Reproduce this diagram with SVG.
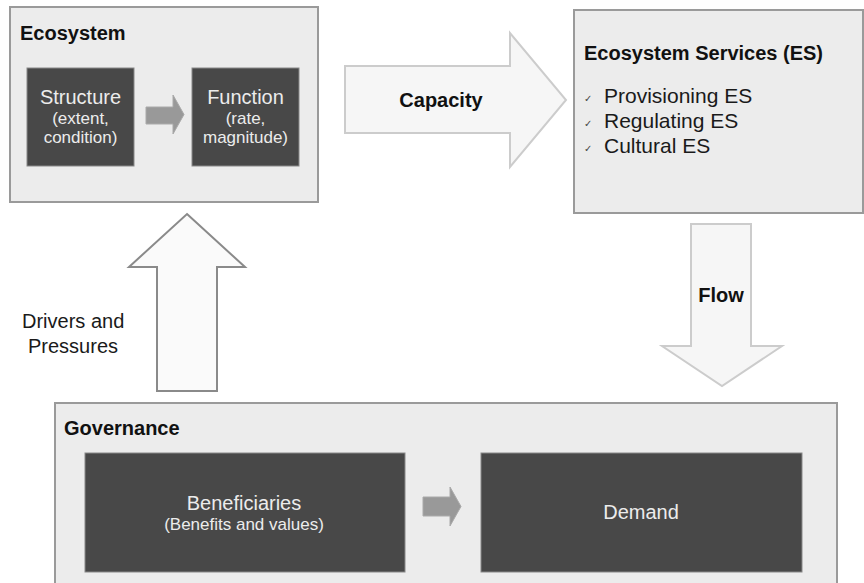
<svg xmlns="http://www.w3.org/2000/svg" width="864" height="583" viewBox="0 0 864 583">
<style>
.panel{fill:#ececec;stroke:#9a9a9a;stroke-width:2}
.dark{fill:#484848;stroke:#888;stroke-width:1}
.title{font-family:"Liberation Sans",Arial,sans-serif;font-weight:bold;font-size:20px;fill:#111}
.big{font-family:"Liberation Sans",Arial,sans-serif;font-size:20px;fill:#ececec;text-anchor:middle}
.small{font-family:"Liberation Sans",Arial,sans-serif;font-size:17px;fill:#ececec;text-anchor:middle}
.item{font-family:"Liberation Sans",Arial,sans-serif;font-size:21px;fill:#1a1a1a}
.chk{font-family:"DejaVu Sans",sans-serif;font-size:10px;fill:#444}
.lbl{font-family:"Liberation Sans",Arial,sans-serif;font-size:20px;fill:#1a1a1a}
.bigarrow{fill:#f6f6f6;stroke:#cccccc;stroke-width:2;stroke-linejoin:miter}
.darkarrow{fill:#fafafa;stroke:#8a8a8a;stroke-width:2}
.smallarrow{fill:#999999;stroke:#aaaaaa;stroke-width:1}
</style>
<rect width="864" height="583" fill="#ffffff"/>
<g id="ecosystem">
<rect class="panel" x="10" y="7" width="308" height="195"/>
<text class="title" x="20" y="40">Ecosystem</text>
</g>
<g id="structure">
<rect class="dark" x="27" y="68" width="107" height="98"/>
<text class="big" x="80.5" y="104">Structure</text>
<text class="small" x="80.5" y="124">(extent,</text>
<text class="small" x="80.5" y="143">condition)</text>
</g>
<g id="function">
<rect class="dark" x="192" y="68" width="107" height="98"/>
<text class="big" x="245.5" y="104">Function</text>
<text class="small" x="245.5" y="124">(rate,</text>
<text class="small" x="245.5" y="143">magnitude)</text>
</g>
<g id="es">
<rect class="panel" x="574" y="10" width="289" height="203"/>
<text class="title" x="584" y="60">Ecosystem Services (ES)</text>
<text class="chk" x="584" y="102">✓</text>
<text class="item" x="604" y="103">Provisioning ES</text>
<text class="chk" x="584" y="127">✓</text>
<text class="item" x="604" y="128">Regulating ES</text>
<text class="chk" x="584" y="152">✓</text>
<text class="item" x="604" y="153">Cultural ES</text>
</g>
<g id="governance">
<rect class="panel" x="55" y="403" width="782" height="190"/>
<text class="title" x="64" y="435">Governance</text>
</g>
<g id="beneficiaries">
<rect class="dark" x="85" y="453" width="320" height="119"/>
<text class="big" x="244" y="510">Beneficiaries</text>
<text class="small" x="244" y="530">(Benefits and values)</text>
</g>
<g id="demand">
<rect class="dark" x="481" y="453" width="321" height="119"/>
<text class="big" x="641" y="519">Demand</text>
</g>
<g id="connectors">
<polygon class="smallarrow" points="146,107 173,107 173,95 184,114.5 173,134 173,124 146,124"/>
<polygon class="smallarrow" points="423,497 450,497 450,487 461,506.5 450,526 450,516 423,516"/>
<polygon class="bigarrow" points="345,66 510,66 510,33 566,100 510,167 510,133 345,133"/>
<text class="title" x="441" y="107" text-anchor="middle">Capacity</text>
<polygon class="bigarrow" points="691,224 751,224 751,346 782,346 722,386 662,346 691,346"/>
<text class="title" x="721" y="302" text-anchor="middle">Flow</text>
<polygon class="darkarrow" points="187,214 245,267 217,267 217,391 157,391 157,267 129,267"/>
<text class="lbl" x="22" y="328">Drivers and</text>
<text class="lbl" x="28" y="353">Pressures</text>
</g>
</svg>
